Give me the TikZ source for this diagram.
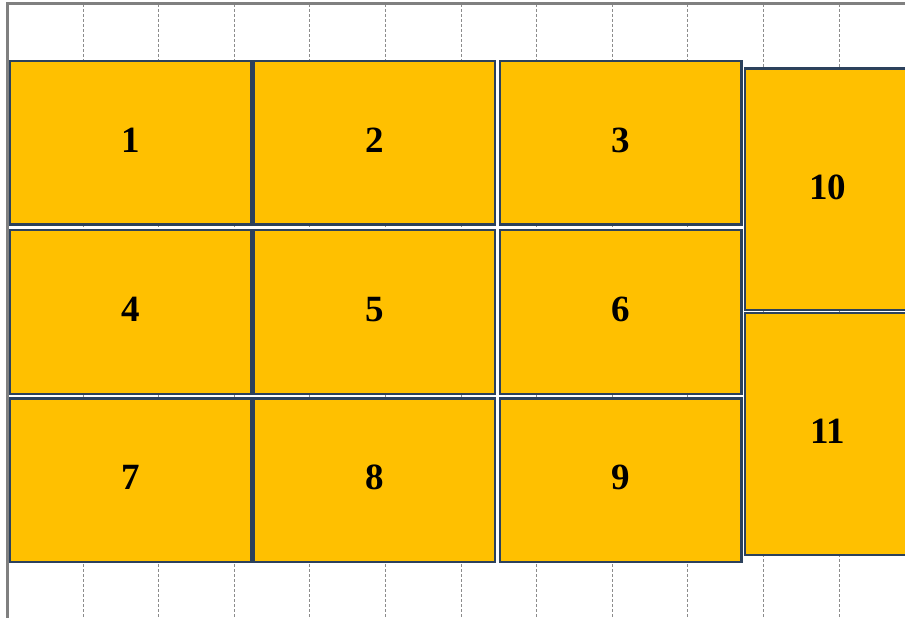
\documentclass[tikz,border=0pt]{standalone}
\usepackage{fontspec}
\setmainfont{Liberation Serif}
\usepackage{tikz}
\usetikzlibrary{positioning}
\definecolor{tilefill}{HTML}{FFC000}
\definecolor{tileedge}{HTML}{2C415C}
\definecolor{gridgray}{HTML}{8C8C8C}

\begin{document}
\begin{tikzpicture}[x=1pt, y=-1pt,
    tile/.style={draw=tileedge, line width=2.2pt, fill=tilefill,
                 minimum width=241.5pt, minimum height=163.5pt,
                 inner sep=0pt, text depth=5pt,
                 font=\fontsize{37}{37}\selectfont\bfseries},
    tall/.style={minimum width=165pt, minimum height=241.5pt},
    gridline/.style={gridgray, line width=0.8pt, dash pattern=on 3pt off 2pt},
    frame/.style={gray, line width=3pt}
  ]
    \useasboundingbox (0,0) rectangle (905,618);
    % grid behind the tiles
    \foreach \k in {0,...,10}
      \draw[gridline] ({83+75.6*\k},4) -- ({83+75.6*\k},618);
    \draw[frame] (7.5,618) -- (7.5,4) -- (906,4);

    \node[tile] (t1) at (130.75,142.75) {1};
    \node[tile, right=0pt of t1] (t2) {2};
    \node[tile, right=2.5pt of t2] (t3) {3};
    \node[tile, below=3.5pt of t1] (t4) {4};
    \node[tile, right=0pt of t4] (t5) {5};
    \node[tile, right=2.5pt of t5] (t6) {6};
    \node[tile, below=2.5pt of t4] (t7) {7};
    \node[tile, right=0pt of t7] (t8) {8};
    \node[tile, right=2.5pt of t8] (t9) {9};
    \node[tile, tall] (t10) at (827.5,189.25) {10};
    \node[tile, tall, below=1pt of t10] (t11) {11};
  \end{tikzpicture}
\end{document}
